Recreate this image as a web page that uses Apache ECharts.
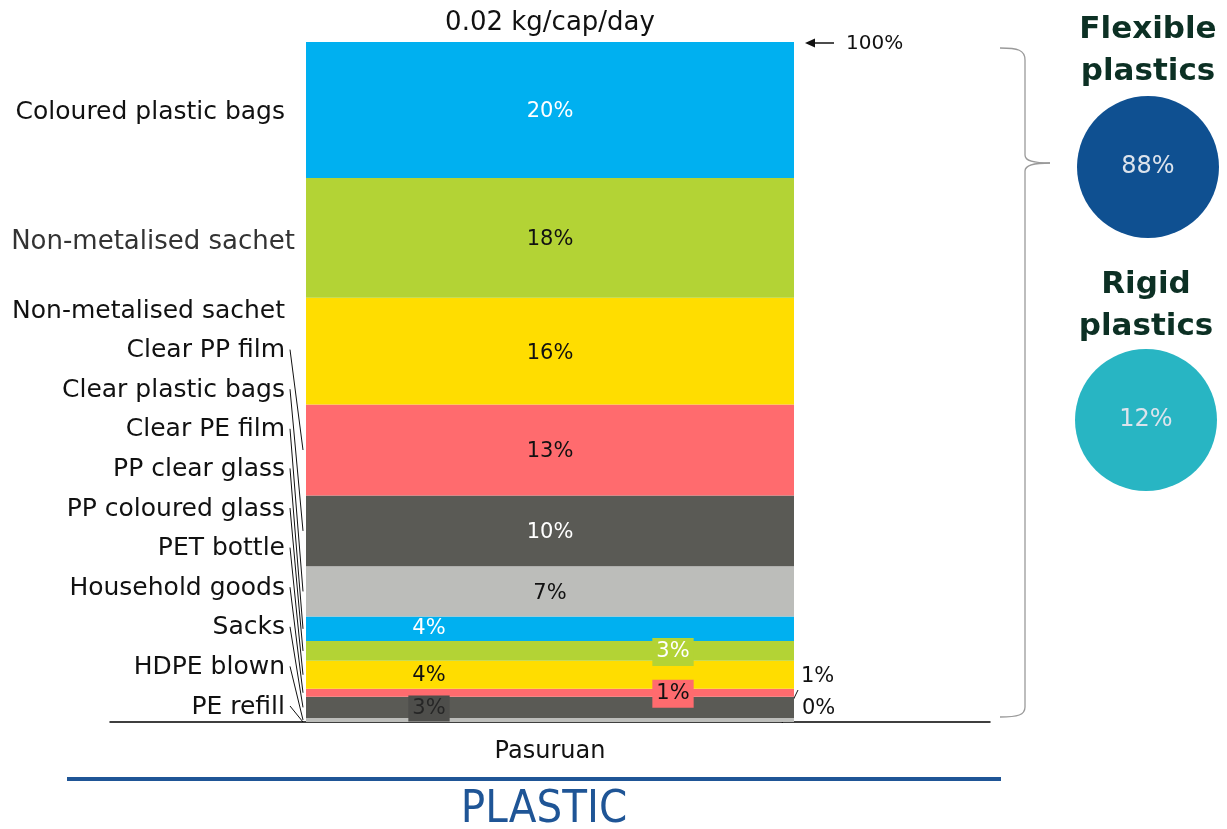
<!DOCTYPE html>
<html>
<head>
<meta charset="utf-8">
<title>Plastic waste composition – Pasuruan</title>
<script src="https://cdn.jsdelivr.net/npm/echarts@6/dist/echarts.min.js"></script>
<style>
  html, body { margin: 0; padding: 0; background: #ffffff; }
  #chart { width: 1227px; height: 829px; }
</style>
</head>
<body>
<div id="chart"></div>
<script>
// ---- data -------------------------------------------------------------
const categories = ['Pasuruan'];
const generationRate = '0.02 kg/cap/day';

// Materials listed from the top of the stack to the bottom
const materialNames = [
  'Coloured plastic bags',
  'Non-metalised sachet',
  'Non-metalised sachet',
  'Clear PP film',
  'Clear plastic bags',
  'Clear PE film',
  'PP clear glass',
  'PP coloured glass',
  'PET bottle',
  'Household goods',
  'Sacks',
  'HDPE blown',
  'PE refill'
];
// Share of plastic waste (%)
const shares = [20.0, 17.6, 15.7, 13.4, 10.4, 7.4, 3.6, 2.9, 4.1, 1.2, 3.1, 0.6, 0.0];
// Plastic type of each material
const plasticType = [
  'flexible', 'flexible', 'flexible', 'flexible', 'flexible', 'flexible', 'flexible',
  'rigid', 'rigid', 'rigid', 'rigid', 'rigid', 'rigid'
];
const groupTitles = { flexible: ['Flexible', 'plastics'], rigid: ['Rigid', 'plastics'] };

// ---- styles -----------------------------------------------------------
const FONT = "'DejaVu Sans', 'Noto Sans', sans-serif";
const NARROW = "'Liberation Sans Narrow', 'DejaVu Sans Condensed', sans-serif";
const BLUE = '#00B0F0', GREEN = '#B3D335', YELLOW = '#FFDD00',
      RED = '#FF6B6E', DARK = '#5A5A55', GREY = '#BCBDBA';
const segmentColors = [BLUE, GREEN, YELLOW, RED, DARK, GREY,
                       BLUE, GREEN, YELLOW, RED, DARK, GREY, BLUE];
const BAR_W = 488;

// placement of the percentage label for each segment
const pctLabelStyle = [
  { color: '#ffffff' },
  { color: '#111111' },
  { color: '#111111' },
  { color: '#111111' },
  { color: '#ffffff' },
  { color: '#111111' },
  { color: '#ffffff', offset: [-121, 0] },
  { color: '#ffffff', offset: [123, 1], backgroundColor: GREEN, padding: [4, 4, 3, 4] },
  { color: '#111111', offset: [-121, 1] },
  { color: '#111111', offset: [123, 1], backgroundColor: RED, padding: [4, 4, 3, 4] },
  { color: '#262626', offset: [-121, 1], backgroundColor: '#4E4E4B', padding: [3, 4, 2, 4] },
  { color: '#111111', position: 'right', distance: 7, offset: [0, -43] },
  { color: '#111111', position: 'right', distance: 8, offset: [0, -13] }
];

const pct = v => Math.round(v) + '%';

// ECharts stacks the first series at the bottom, so build from the last material up
const order = shares.map((_, i) => i).reverse();
const barSeries = order.map(i => ({
  name: materialNames[i],
  type: 'bar',
  stack: 'plastic',
  barWidth: BAR_W,
  silent: true,
  data: [shares[i]],
  itemStyle: { color: segmentColors[i] },
  label: Object.assign({
    show: true,
    position: 'inside',
    offset: [0, 2],
    formatter: p => pct(p.value),
    fontFamily: FONT,
    fontSize: 21
  }, pctLabelStyle[i])
}));

// share of each plastic type
const groupTotal = type => shares.reduce((s, v, i) => s + (plasticType[i] === type ? v : 0), 0);
const circleDefs = [
  { type: 'flexible', center: [1148, 167], color: '#0F5091', titleY: [30, 72] },
  { type: 'rigid', center: [1146, 420], color: '#28B5C3', titleY: [285, 327] }
];
const pieSeries = circleDefs.map(c => ({
  type: 'pie',
  silent: true,
  center: c.center,
  radius: 71,
  startAngle: 90,
  labelLine: { show: false },
  label: {
    show: true,
    position: 'center',
    formatter: p => pct(p.value),
    color: '#DCE3EC',
    fontFamily: FONT,
    fontSize: 24
  },
  itemStyle: { color: c.color },
  data: [{ name: groupTitles[c.type].join(' '), value: groupTotal(c.type) }]
}));

const chart = echarts.init(document.getElementById('chart'));
chart.setOption({
  animation: false,
  backgroundColor: '#ffffff',
  grid: { left: 110, right: 237, top: 42, bottom: 107 },
  xAxis: {
    type: 'category',
    data: categories,
    axisTick: { show: false },
    axisLine: { show: true, lineStyle: { color: '#000000', width: 1.5 } },
    axisLabel: { color: '#111111', fontFamily: FONT, fontSize: 24, margin: 18 }
  },
  yAxis: {
    type: 'value', min: 0, max: 100, show: false,
    splitLine: { show: false }
  },
  series: barSeries.concat(pieSeries)
});

// ---- annotations positioned from the axes ------------------------------
const toPx = v => chart.convertToPixel({ gridIndex: 0 }, [0, v]);
const barCx = toPx(0)[0];
const barLeft = barCx - BAR_W / 2;
const barRight = barCx + BAR_W / 2;
const yTop = toPx(100)[1];
const yBottom = toPx(0)[1];

// cumulative base of each material (stack measured from the bottom)
const baseOf = i => shares.slice(i + 1).reduce((s, v) => s + v, 0);
const centerPx = i => toPx(baseOf(i) + shares[i] / 2)[1];

const graphics = [];
const txt = (text, x, y, font, fill, align) => ({
  type: 'text', silent: true,
  style: { text, x, y, font, fill, align: align || 'center', verticalAlign: 'middle',
           textAlign: align || 'center', textVerticalAlign: 'middle' }
});
const seg = (x1, y1, x2, y2, stroke, w) => ({
  type: 'line', silent: true,
  shape: { x1, y1, x2, y2 },
  style: { stroke: stroke || '#111111', lineWidth: w || 1 }
});
const curve = (x1, y1, cx1, cy1, cx2, cy2, x2, y2, stroke, w) => ({
  type: 'bezierCurve', silent: true,
  shape: { x1, y1, cpx1: cx1, cpy1: cy1, cpx2: cx2, cpy2: cy2, x2, y2 },
  style: { stroke, lineWidth: w, fill: null }
});

// material names on the left, with leader lines for the thin lower segments
const NAME_X = 285, FIRST_LIST_Y = 311, LIST_STEP = 39.6;
materialNames.forEach((name, i) => {
  let y, x = NAME_X, size = 25;
  if (i < 2) {
    y = centerPx(i) + 2;
    if (i === 1) { x = 295; size = 26; y += 2; }
  } else {
    y = FIRST_LIST_Y + (i - 2) * LIST_STEP;
  }
  graphics.push(txt(name, x, y, size + 'px ' + FONT, i === 1 ? '#333333' : '#111111', 'right'));
  if (i >= 3) {
    graphics.push(seg(290, y - 1, barLeft - 3, centerPx(i)));
  }
});

// leader line for the zero-share label on the right
graphics.push(seg(barRight - 12, yBottom + 1, barRight + 4, yBottom - 32));

// generation rate above the bar
graphics.push(txt(generationRate, barCx, yTop - 19, '26px ' + FONT, '#111111'));

// arrow marking the 100 % line
graphics.push(seg(barRight + 18, yTop + 1, barRight + 40, yTop + 1, '#111111', 1.5));
graphics.push({
  type: 'polygon', silent: true,
  shape: { points: [[barRight + 11, yTop + 1], [barRight + 21, yTop - 3.5], [barRight + 21, yTop + 5.5]] },
  style: { fill: '#111111' }
});
graphics.push(txt('100%', barRight + 52, yTop + 2, '20px ' + FONT, '#111111', 'left'));

// curly brace grouping the whole stack
const bT = yTop + 6, bB = yBottom - 5, bMid = 163, BR = '#9A9A9A', BW = 1.3;
graphics.push(curve(1000, bT, 1018, bT, 1025, bT + 2, 1025, bT + 12, BR, BW));
graphics.push(seg(1025, bT + 12, 1025, bMid - 8, BR, BW));
graphics.push(curve(1025, bMid - 8, 1025, bMid - 2, 1033, bMid, 1050, bMid, BR, BW));
graphics.push(curve(1050, bMid, 1033, bMid, 1025, bMid + 2, 1025, bMid + 8, BR, BW));
graphics.push(seg(1025, bMid + 8, 1025, bB - 10, BR, BW));
graphics.push(curve(1025, bB - 10, 1025, bB - 2, 1018, bB, 1000, bB, BR, BW));

// group titles above the circles
circleDefs.forEach(c => {
  groupTitles[c.type].forEach((line, k) => {
    graphics.push(txt(line, c.center[0], c.titleY[k], 'bold 31px ' + FONT, '#0C3024'));
  });
});

// footer rule and heading
graphics.push({
  type: 'rect', silent: true,
  shape: { x: 67, y: 777, width: 934, height: 4 },
  style: { fill: '#1F5596' }
});
graphics.push(txt('PLASTIC', 544, 810, '45px ' + NARROW, '#1F5596'));

chart.setOption({ graphic: graphics });
</script>
</body>
</html>
